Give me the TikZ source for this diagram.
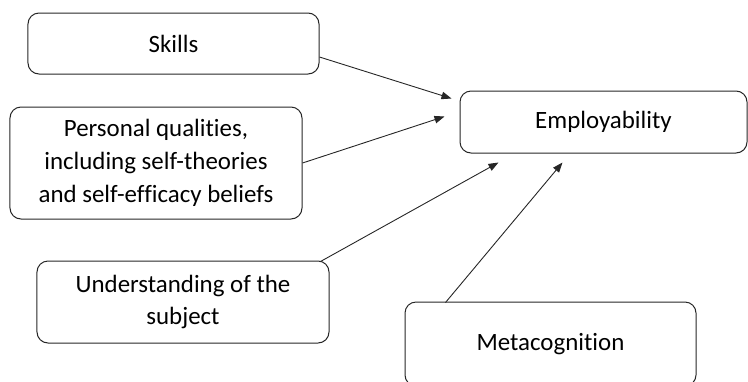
\documentclass[tikz,border=0pt]{standalone}
\usepackage{fontspec}
\setmainfont{Carlito}[Ligatures=NoCommon]
\usetikzlibrary{arrows.meta,calc}
\begin{document}
\begin{tikzpicture}[x=1bp,y=-1bp,
  box/.style={draw=black!85,line width=1bp,rounded corners=11bp,align=center,inner sep=0pt,
    font=\fontsize{25}{33}\selectfont,text=black},
  conn/.style={draw=black!85,line width=0.9bp,-{Triangle[length=10bp,width=7.5bp]}}]
\useasboundingbox (0,0) rectangle (748,381);
\node[box,minimum width=291bp,minimum height=61bp] (skills) at (173.5,43.5) {Skills};
\node[box,minimum width=292bp,minimum height=112bp] (personal) at (156,163) {Personal qualities,\\including self-theories\\and self-efficacy beliefs};
\node[box,minimum width=292bp,minimum height=82bp] (under) at (183,302) {Understanding of the\\subject};
\node[box,minimum width=291bp,minimum height=84bp] (meta) at (550.5,344) {Metacognition};
\node[box,minimum width=287bp,minimum height=62bp] (employ) at (603.5,122) {Employability};
\coordinate (e1) at ($(employ.north west)+(-8,8)$);
\coordinate (e2) at ($(employ.north west)+(-15,26)$);
\coordinate (e3) at ($(employ.south west)+(39,9)$);
\coordinate (e4) at ($(employ.south west)+(103,9)$);
\draw[conn] ($(skills.east)+(0,13.5)$) -- (e1);
\draw[conn] (personal.east) -- (e2);
\draw[conn] ($(under.north east)+(-9,1)$) -- (e3);
\draw[conn] ($(meta.north west)+(41,1)$) -- (e4);
\end{tikzpicture}
\end{document}
